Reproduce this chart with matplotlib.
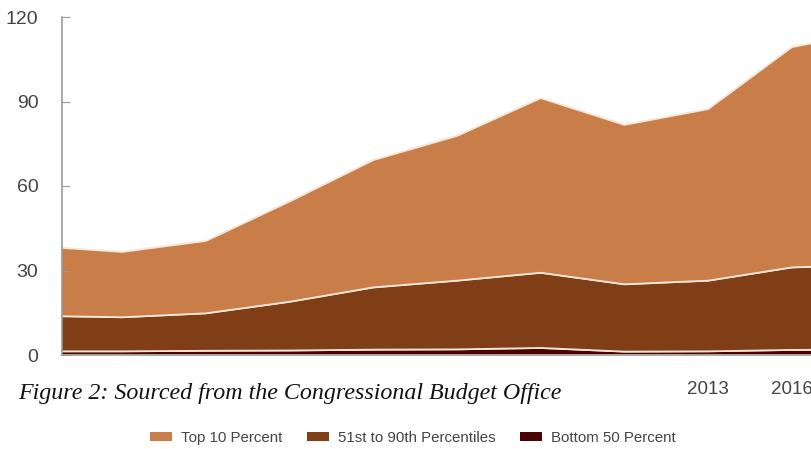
import matplotlib
matplotlib.use("Agg")
import matplotlib.pyplot as plt
from matplotlib.patches import Patch

# survey years (triennial) and wealth by group
years = [1989, 1992, 1995, 1998, 2001, 2004, 2007, 2010, 2013, 2016, 2019]
bottom_50 = [1.3, 1.3, 1.5, 1.6, 1.9, 2.0, 2.5, 1.2, 1.3, 1.8, 2.0]
pct_51_90 = [12.6, 12.1, 13.3, 17.3, 22.1, 24.4, 26.7, 23.9, 25.1, 29.3, 30.0]
top_10 = [24.7, 23.2, 25.7, 35.6, 45.2, 51.4, 62.0, 56.6, 60.9, 78.2, 83.0]

labels = ["Bottom 50 Percent", "51st to 90th Percentiles", "Top 10 Percent"]
colors = ["#4a0303", "#7f3e16", "#c97d48"]

tick_years = [2013, 2016]
y_ticks = [0, 30, 60, 90, 120]


def main():
    fig = plt.figure(figsize=(8.12, 4.49), dpi=100)
    ax = fig.add_axes([62 / 812, 94 / 449, 1 - 62 / 812, 338 / 449])

    ax.stackplot(years, bottom_50, pct_51_90, top_10, colors=colors,
                 edgecolor="#f3e6d8", linewidth=1.3)

    ax.set_xlim(1989.84, 2016.72)
    ax.set_ylim(0, 120)
    ax.set_yticks(y_ticks)
    ax.set_xticks(tick_years)
    ax.set_xticklabels([str(y) for y in tick_years])

    for side in ("top", "right"):
        ax.spines[side].set_visible(False)
    for side in ("left", "bottom"):
        ax.spines[side].set_color("#999999")
        ax.spines[side].set_linewidth(1.2)

    ax.tick_params(axis="y", direction="in", length=6, color="#999999",
                   labelsize=14, labelcolor="#444444", pad=17)
    ax.tick_params(axis="x", length=0, labelsize=13.5, labelcolor="#444444", pad=19)
    for lab in ax.get_xticklabels() + ax.get_yticklabels():
        lab.set_fontfamily("Liberation Sans")

    fig.text(18 / 812, 1 - 393 / 449,
             "Figure 2: Sourced from the Congressional Budget Office",
             family="Liberation Serif", style="italic", fontsize=17.3,
             color="#111111", va="center", ha="left")

    handles = [Patch(facecolor=c, edgecolor="none") for c in colors[::-1]]
    fig.legend(handles, labels[::-1], loc="center", ncol=3,
               bbox_to_anchor=(413 / 812, 1 - 438 / 449), frameon=False,
               prop={"family": "Liberation Sans", "size": 10.8},
               labelcolor="#444444", handlelength=1.5, handleheight=0.55,
               handletextpad=0.6, columnspacing=1.6)

    fig.savefig("out.png", dpi=100)


if __name__ == "__main__":
    main()
